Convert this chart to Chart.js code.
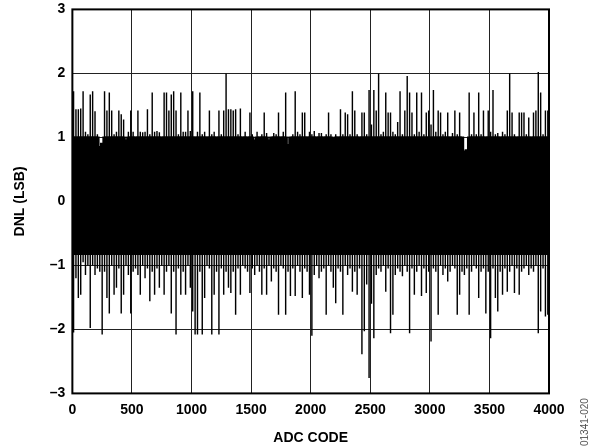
<!DOCTYPE html>
<html>
<head>
<meta charset="utf-8">
<script src="https://cdn.jsdelivr.net/npm/chart.js@4.4.1/dist/chart.umd.min.js"></script>
<style>
  html, body { margin: 0; padding: 0; background: #fff; overflow: hidden; }
  #wrap { position: relative; width: 595px; height: 447px; overflow: hidden; }
  #dnl { position: absolute; left: 0; top: -6px; }
  #tag {
    position: absolute; left: 579px; top: 446px;
    transform-origin: left top; transform: rotate(-90deg);
    font: 10px "Liberation Sans", Arial, sans-serif; color: #555; white-space: nowrap;
  }
</style>
</head>
<body>
<div id="wrap">
  <canvas id="dnl" width="595" height="453"></canvas>
  <div id="tag">01341-020</div>
</div>
<script>
// DNL per block of 20 codes: highest and lowest value
const BIN = 20;
const dnlHigh = [
  1.72,1.44,1.44,1.45,1.72,1.09,1.05,1.67,1.72,1.41,1.05,0.85,0.90,1.72,1.42,1.70,1.42,1.05,1.09,1.42,1.36,1.28,0.95,1.09,1.42,
  1.09,1.00,1.42,1.09,1.08,1.09,1.44,1.05,1.70,1.09,1.10,1.08,1.00,1.70,1.70,1.42,1.67,1.72,1.42,1.05,1.70,1.09,1.09,1.42,1.10,
  1.72,1.00,1.09,1.70,1.05,1.09,1.00,1.42,1.05,1.09,1.00,1.42,1.05,1.42,2.00,1.44,1.44,1.42,1.44,1.05,1.45,1.00,1.09,1.00,1.39,
  1.05,0.95,1.09,1.00,1.05,1.39,1.07,0.95,1.00,1.07,1.05,1.39,1.00,1.09,1.70,0.88,1.00,1.05,1.72,1.09,1.05,1.39,1.39,1.00,1.09,
  1.05,1.10,1.00,1.07,1.07,1.00,1.05,1.39,1.05,0.98,1.05,1.00,1.44,1.05,1.39,1.36,1.05,1.72,1.42,1.05,1.00,1.39,1.39,1.05,1.74,
  1.20,1.74,1.42,2.00,1.05,1.09,1.70,1.39,1.39,1.09,1.05,1.24,1.72,1.05,1.42,1.96,1.70,1.39,1.05,1.70,1.09,1.70,1.05,1.39,1.42,
  1.20,1.74,1.09,1.42,1.39,1.05,1.09,1.39,1.00,1.07,1.42,1.05,1.39,1.00,0.78,0.80,1.70,1.05,1.39,1.05,1.70,1.05,1.42,1.00,1.42,
  1.09,1.74,1.05,1.07,1.00,1.09,1.05,1.42,2.00,1.39,1.05,1.00,1.39,1.39,1.39,1.05,1.31,1.00,1.39,1.42,2.02,1.70,1.05,1.42,1.42
];
const dnlLow = [
  -2.05,-1.20,-1.51,-1.46,-0.95,-1.15,-1.00,-1.98,-1.00,-1.15,-1.05,-1.10,-2.08,-1.10,-1.51,-1.75,-1.00,-1.46,-1.35,-1.05,-1.75,-1.46,-1.00,-1.15,-1.75,
  -1.10,-1.05,-1.15,-1.46,-1.00,-1.20,-1.05,-1.56,-1.10,-1.46,-1.05,-1.35,-1.00,-1.46,-1.10,-1.00,-1.75,-1.10,-2.08,-1.05,-1.46,-1.10,-1.46,-1.00,-1.35,
  -1.72,-2.08,-2.08,-1.10,-2.08,-1.51,-1.00,-1.05,-2.08,-1.46,-1.10,-2.08,-1.05,-1.46,-1.10,-1.35,-1.43,-1.10,-1.77,-1.05,-1.46,-1.00,-1.05,-1.10,-1.43,
  -1.05,-1.15,-1.00,-1.10,-1.46,-1.05,-1.46,-1.00,-1.25,-1.05,-1.10,-1.77,-1.00,-1.05,-1.77,-1.10,-1.48,-1.05,-1.48,-1.00,-1.10,-1.51,-1.05,-1.10,-1.46,
  -2.10,-1.15,-1.00,-1.20,-1.10,-1.05,-1.77,-1.00,-1.10,-1.35,-1.59,-1.05,-1.10,-1.77,-1.00,-1.15,-1.05,-1.41,-1.10,-1.46,-1.05,-2.39,-2.03,-1.30,-2.76,
  -1.60,-2.14,-1.15,-1.05,-1.10,-1.00,-1.41,-1.05,-2.06,-1.77,-1.15,-1.05,-1.10,-1.17,-1.00,-1.10,-2.06,-1.05,-1.46,-1.10,-1.00,-1.48,-1.05,-1.43,-1.10,
  -2.19,-1.05,-1.10,-1.77,-1.00,-1.15,-1.05,-1.25,-1.10,-1.00,-1.05,-1.77,-1.46,-1.10,-1.15,-1.05,-1.77,-1.10,-1.00,-1.05,-1.51,-1.10,-1.05,-1.75,-1.10,
  -2.14,-1.05,-1.51,-1.72,-1.10,-1.46,-1.05,-1.41,-1.10,-1.00,-1.43,-1.05,-1.46,-1.10,-1.05,-1.00,-1.15,-1.05,-1.10,-1.00,-2.06,-1.72,-1.05,-1.80,-1.77
];
// the dense part of the trace, where codes overlap into solid black
const CORE_TOP = 1.0;
const CORE_BOTTOM = -0.82;
const codes = dnlHigh.map((_, i) => i * BIN + BIN / 2);

const FONT = "'Liberation Sans', Arial, Helvetica, sans-serif";

const frame = {
  id: 'frame',
  afterDraw(chart) {
    const { ctx, chartArea: a } = chart;
    ctx.save();
    ctx.strokeStyle = '#000';
    ctx.lineWidth = 2;
    ctx.strokeRect(a.left, a.top, a.right - a.left, a.bottom - a.top);
    ctx.restore();
  }
};

new Chart(document.getElementById('dnl'), {
  type: 'bar',
  data: {
    datasets: [{
      data: codes.map((c, i) => ({ x: c, y: [dnlLow[i], dnlHigh[i]] })),
      backgroundColor: '#000',
      borderWidth: 0,
      barPercentage: 0.6,
      categoryPercentage: 1,
      grouped: false
    }, {
      data: codes.map((c, i) => ({ x: c, y: [Math.max(dnlLow[i], CORE_BOTTOM), Math.min(dnlHigh[i], CORE_TOP)] })),
      backgroundColor: '#000',
      borderWidth: 0,
      inflateAmount: 1,
      barPercentage: 1,
      categoryPercentage: 1,
      grouped: false
    }]
  },
  options: {
    responsive: false,
    animation: false,
    layout: { padding: { top: 0, right: 46, left: 12, bottom: 0 } },
    plugins: { legend: { display: false }, tooltip: { enabled: false } },
    scales: {
      x: {
        type: 'linear',
        min: 0, max: 4000,
        offset: false,
        grid: { color: '#222', lineWidth: 1, drawTicks: false, offset: false },
        border: { display: false },
        ticks: { stepSize: 500, padding: 8, color: '#000', maxRotation: 0,
                 callback: v => String(v),
                 font: { family: FONT, size: 14, weight: 'bold' } },
        title: { display: true, text: 'ADC CODE', color: '#000', padding: { top: 4, bottom: 0 },
                 font: { family: FONT, size: 14, weight: 'bold' } }
      },
      y: {
        min: -3, max: 3,
        grid: { color: '#222', lineWidth: 1, drawTicks: false },
        border: { display: false },
        ticks: { stepSize: 1, padding: 7, color: '#000',
                 callback: v => v < 0 ? '\u2013' + Math.abs(v) : String(v),
                 font: { family: FONT, size: 14, weight: 'bold' } },
        title: { display: true, text: 'DNL (LSB)', color: '#000', padding: { top: 0, bottom: 14 },
                 font: { family: FONT, size: 14, weight: 'bold' } }
      }
    }
  },
  plugins: [frame]
});
</script>
</body>
</html>
